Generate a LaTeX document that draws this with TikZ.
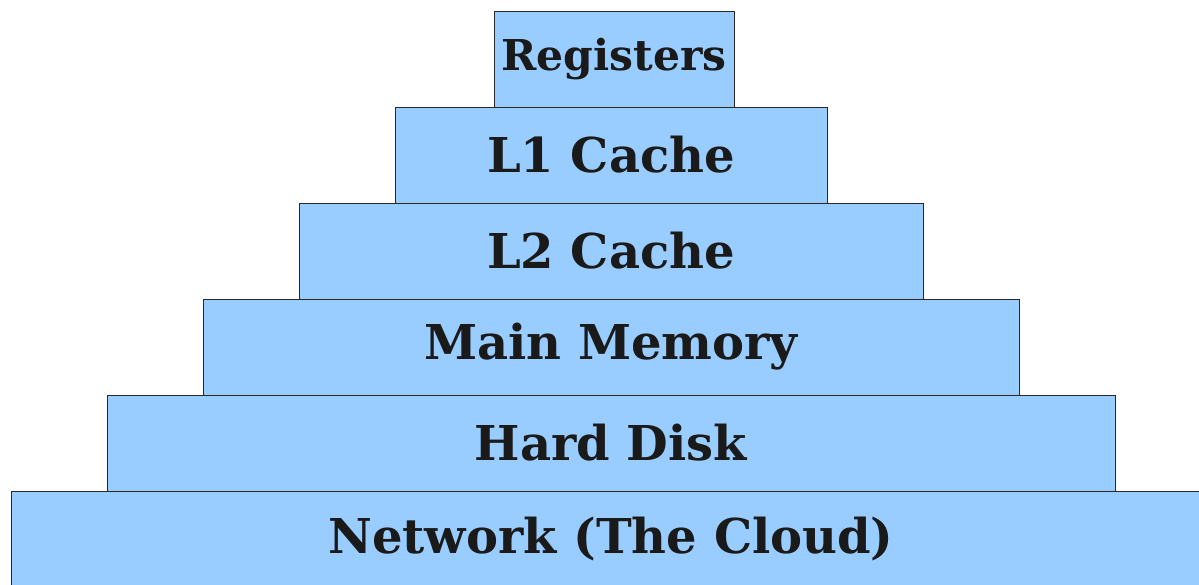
\documentclass[tikz,border=0pt]{standalone}
\usepackage{fontspec}
\setmainfont{DejaVu Serif}
\usetikzlibrary{positioning}
\definecolor{tier}{RGB}{153,204,255}
\definecolor{ink}{RGB}{26,26,26}
\definecolor{edge}{RGB}{40,40,40}

\begin{document}
\begin{tikzpicture}[x=1pt,y=1pt,
  level/.style={draw=edge, fill=tier, line width=0.9pt, minimum height=96pt, inner sep=0pt, outer sep=0pt,
    text=ink, font=\fontsize{48}{48}\selectfont\bfseries},
]
  \useasboundingbox (0,0) rectangle (1199,584);
  \node[level, minimum width=1200pt] (net) at (611,45) {Network (The Cloud)};
  \node[level, minimum width=1008pt, above=0pt of net] (disk) {Hard Disk};
  \node[level, minimum width=816pt, above=0pt of disk] (mem) {Main Memory};
  \node[level, minimum width=624pt, above=0pt of mem] (ltwo) {L2 Cache};
  \node[level, minimum width=432pt, above=0pt of ltwo] (lone) {L1 Cache};
  \node[level, minimum width=240pt, minimum height=96pt, above=0pt of lone, xshift=3pt,
    font=\fontsize{42.5}{42.5}\selectfont\bfseries] (reg) {Registers};
\end{tikzpicture}
\end{document}
